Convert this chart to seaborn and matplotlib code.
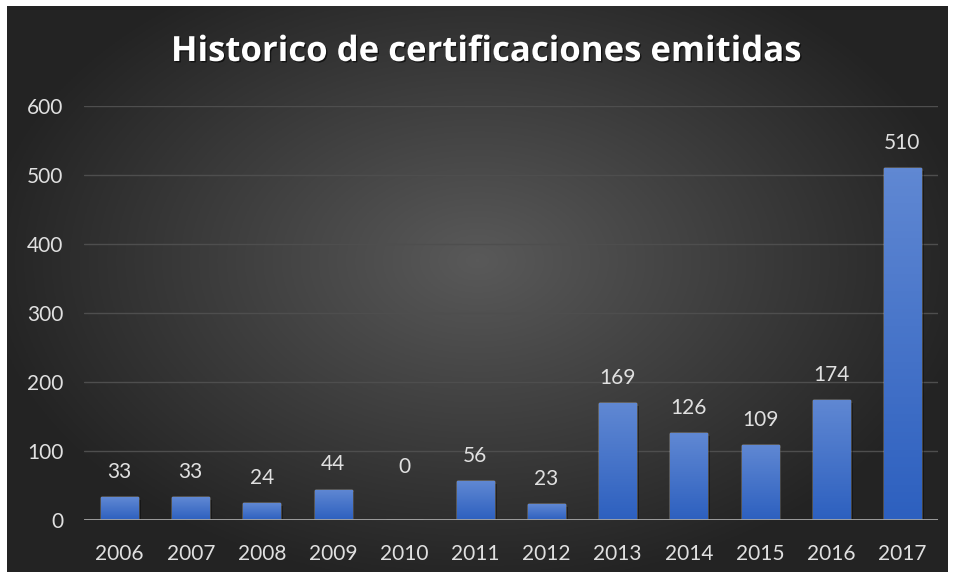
import matplotlib
matplotlib.use("Agg")
import matplotlib.pyplot as plt
import matplotlib.patheffects as pe
import numpy as np
import pandas as pd
import seaborn as sns

years = ["2006", "2007", "2008", "2009", "2010", "2011", "2012",
         "2013", "2014", "2015", "2016", "2017"]
certificaciones = [33, 33, 24, 44, 0, 56, 23, 169, 126, 109, 174, 510]
y_ticks = [0, 100, 200, 300, 400, 500, 600]

df = pd.DataFrame({"year": years, "n": certificaciones})

sns.set_theme(style="dark")
plt.rcParams["font.family"] = ["Lato", "DejaVu Sans"]

fig = plt.figure(figsize=(9.56, 5.78), dpi=100, facecolor="white")

# dark radial background of the chart area
bg = fig.add_axes([7 / 956, 6 / 578, 941 / 956, 566 / 578])
gx, gy = np.meshgrid(np.linspace(-1, 1, 400), np.linspace(-1, 1, 240))
r = np.sqrt((gx / 1.0) ** 2 + ((gy + 0.1) / 1.1) ** 2)
shade = np.clip(0.35 - 0.2 * r, 0.14, 0.35)
bg.imshow(np.dstack([shade, shade, shade]), aspect="auto", extent=[0, 1, 0, 1])
bg.set_axis_off()

ax = fig.add_axes([84 / 956, 58 / 578, 854 / 956, 414 / 578])
ax.set_facecolor("none")
sns.barplot(data=df, x="year", y="n", color="#4472c4", width=0.52,
            saturation=1, ax=ax, zorder=3)

# vertical gradient inside each bar
grad = np.linspace(0, 1, 100).reshape(-1, 1)
top = np.array([0x60, 0x88, 0xd3]) / 255
bot = np.array([0x2d, 0x60, 0xbf]) / 255
cols = (top * (1 - grad) + bot * grad).reshape(100, 1, 3)
for p in ax.patches:
    x0, w, h = p.get_x(), p.get_width(), p.get_height()
    if h <= 0:
        continue
    p.set_path_effects([pe.SimplePatchShadow(offset=(2, -2), shadow_rgbFace="black", alpha=0.35), pe.Normal()])
    im = ax.imshow(cols, aspect="auto", extent=[x0, x0 + w, 0, h], zorder=4)
    im.set_clip_path(p)

ax.set_xlim(-0.5, len(years) - 0.5)
ax.set_ylim(0, 600)
ax.set_yticks(y_ticks)
ax.grid(axis="y", color="#4e4e4e", linewidth=1, zorder=0)
ax.grid(axis="x", visible=False)
ax.axhline(0, color="#a6a6a6", linewidth=2, zorder=5)
for s in ax.spines.values():
    s.set_visible(False)
ax.tick_params(axis="both", colors="#e0e0e0", labelsize=15, length=0)
ax.tick_params(axis="y", pad=15)
ax.tick_params(axis="x", pad=17)
ax.set_xlabel("")
ax.set_ylabel("")

labels = ax.bar_label(ax.containers[0], labels=[str(v) for v in certificaciones],
                      padding=11, color="#e0e0e0", fontsize=15)
# Excel floats the zero label higher
for t, v in zip(labels, certificaciones):
    if v == 0:
        t.xyann = (0, 31)

fig.text(486 / 956, 1 - 52 / 578, "Historico de certificaciones emitidas",
         ha="center", va="center", color="white", fontsize=25,
         fontweight="bold", family=["Open Sans", "DejaVu Sans"],
         path_effects=[pe.withSimplePatchShadow(offset=(1, -1), shadow_rgbFace="black", alpha=0.6)])

fig.savefig("out.png", dpi=100, facecolor="white")
